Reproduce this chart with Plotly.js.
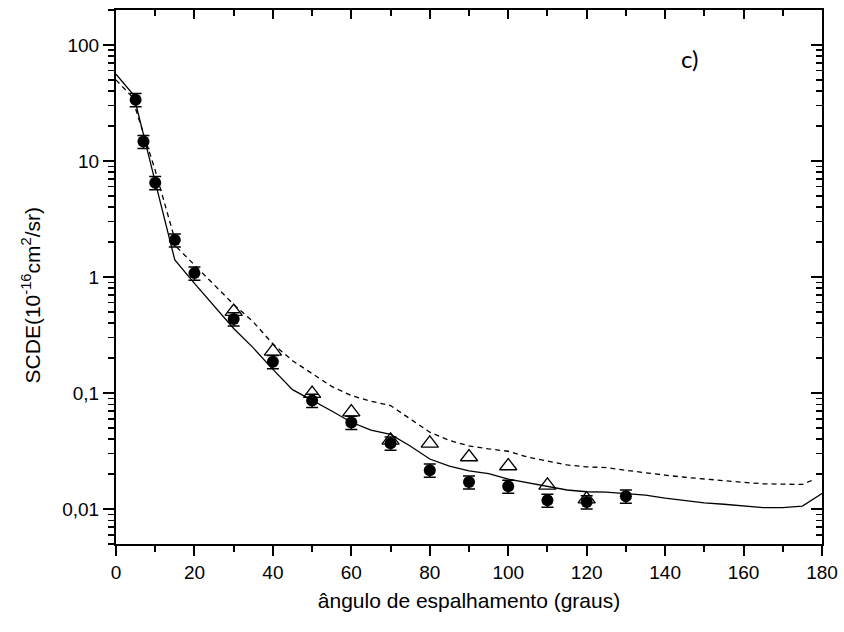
<!DOCTYPE html>
<html><head><meta charset="utf-8">
<script src="https://cdn.plot.ly/plotly-3.0.1.min.js"></script>
<style>html,body{margin:0;padding:0;background:#fff}#chart{width:844px;height:632px}</style>
</head><body><div id="chart"></div>
<script>
// Experimental data (filled circles)
const expAngles = [5, 7, 10, 15, 20, 30, 40, 50, 60, 70, 80, 90, 100, 110, 120, 130];
const expValues = [33.7, 14.7, 6.5, 2.08, 1.08, 0.435, 0.186, 0.0863, 0.0558, 0.0369, 0.0216, 0.0171, 0.0157, 0.0119, 0.0115, 0.0129];
// Open triangles
const triAngles = [30, 40, 50, 60, 70, 80, 90, 100, 110, 120];
const triValues = [0.503, 0.229, 0.099, 0.0685, 0.0391, 0.0369, 0.0281, 0.0235, 0.0160, 0.0122];
// Solid curve
const solidAngles = [0, 4.5, 10, 15, 20, 25, 30, 35, 40, 45, 50, 55, 60, 65, 70, 75, 80, 85, 90, 95, 100, 105, 110, 115, 120, 125, 130, 135, 140, 145, 150, 155, 160, 165, 170, 175, 180];
const solidValues = [56, 37, 6.6, 1.4, 0.88, 0.56, 0.36, 0.245, 0.16, 0.107, 0.087, 0.07, 0.056, 0.048, 0.044, 0.035, 0.027, 0.0235, 0.0213, 0.0202, 0.0181, 0.0168, 0.0157, 0.0146, 0.0141, 0.014, 0.0136, 0.0132, 0.0124, 0.0118, 0.0113, 0.011, 0.0106, 0.0103, 0.0103, 0.0106, 0.0136];
// Dashed curve
const dashAngles = [0, 4, 10, 15.6, 20, 25, 30, 35, 40, 45, 50, 55, 60, 65, 70, 75, 80, 85, 90, 95, 100, 105, 110, 115, 120, 125, 130, 135, 140, 145, 150, 155, 160, 165, 170, 175, 178];
const dashValues = [50, 36, 8.3, 1.79, 1.27, 0.86, 0.58, 0.41, 0.265, 0.19, 0.148, 0.114, 0.095, 0.085, 0.078, 0.06, 0.046, 0.039, 0.035, 0.033, 0.0315, 0.028, 0.0258, 0.024, 0.0231, 0.0228, 0.0216, 0.0205, 0.0196, 0.0188, 0.0181, 0.0175, 0.017, 0.0165, 0.0163, 0.0163, 0.018];
// Ticks
const xTickVals = [0, 20, 40, 60, 80, 100, 120, 140, 160, 180];
const yTickVals = [0.01, 0.1, 1, 10, 100];
const yTickText = ['0,01', '0,1', '1', '10', '100'];

const traces = [
  {x: solidAngles, y: solidValues, mode: 'lines', line: {color: '#000', width: 1.3}, showlegend: false, hoverinfo: 'skip'},
  {x: dashAngles, y: dashValues, mode: 'lines', line: {color: '#000', width: 1.3, dash: '5px,4px'}, showlegend: false, hoverinfo: 'skip'},
  {x: triAngles, y: triValues, mode: 'markers', marker: {symbol: 'triangle-up-open', size: 15, color: '#000', line: {width: 1.3, color: '#000'}}, showlegend: false},
  {x: expAngles, y: expValues, mode: 'markers', marker: {symbol: 'circle', size: 12, color: '#000'},
   error_y: {type: 'percent', value: 13, color: '#000', thickness: 1.5, width: 6}, showlegend: false},
  {x: [], y: [], xaxis: 'x2', yaxis: 'y2', showlegend: false, hoverinfo: 'skip'}
];

const fontBase = {family: 'Liberation Sans, Arial, sans-serif', color: '#000'};
const layout = {
  width: 844, height: 632,
  margin: {l: 116, r: 22, t: 10, b: 88},
  paper_bgcolor: '#fff', plot_bgcolor: '#fff',
  showlegend: false,
  font: Object.assign({size: 19}, fontBase),
  xaxis: {
    range: [0, 180], tickmode: 'array', tickvals: xTickVals,
    ticks: 'outside', ticklen: 10, tickwidth: 2, tickcolor: '#000',
    showline: true, linewidth: 2, linecolor: '#000', showgrid: false, zeroline: false,
    tickfont: Object.assign({size: 19}, fontBase),
    minor: {tickmode: 'linear', tick0: 0, dtick: 10, ticks: 'outside', ticklen: 6, tickwidth: 2, tickcolor: '#000', showgrid: false},
    title: {text: 'ângulo de espalhamento (graus)', font: Object.assign({size: 21}, fontBase), standoff: 12}
  },
  yaxis: {
    type: 'log', range: [Math.log10(0.005), Math.log10(200)],
    tickmode: 'array', tickvals: yTickVals, ticktext: yTickText,
    ticks: 'outside', ticklen: 11, tickwidth: 2, tickcolor: '#000',
    showline: true, linewidth: 2, linecolor: '#000', showgrid: false, zeroline: false,
    tickfont: Object.assign({size: 19}, fontBase),
    minor: {dtick: 'D1', ticks: 'outside', ticklen: 6, tickwidth: 1.5, tickcolor: '#000', showgrid: false}
  },
  xaxis2: {
    overlaying: 'x', side: 'top', matches: 'x', range: [0, 180],
    tickmode: 'linear', tick0: 0, dtick: 20, ticks: 'inside', ticklen: 9, tickwidth: 2, tickcolor: '#000',
    showticklabels: false, showline: true, linewidth: 2, linecolor: '#000', showgrid: false, zeroline: false,
    minor: {tickmode: 'linear', tick0: 0, dtick: 10, ticks: 'inside', ticklen: 6, tickwidth: 2, tickcolor: '#000', showgrid: false}
  },
  yaxis2: {
    overlaying: 'y', side: 'right', type: 'log', range: [Math.log10(0.005), Math.log10(200)],
    tickmode: 'array', tickvals: yTickVals, ticks: 'inside', ticklen: 11, tickwidth: 2, tickcolor: '#000',
    showticklabels: false, showline: true, linewidth: 2, linecolor: '#000', showgrid: false, zeroline: false,
    minor: {dtick: 'D1', ticks: 'inside', ticklen: 6, tickwidth: 1.5, tickcolor: '#000', showgrid: false}
  },
  annotations: [
    {text: 'SCDE(10<sup>-16</sup>cm<sup>2</sup>/sr)', xref: 'paper', yref: 'paper', x: -0.12, y: 0.466,
     xanchor: 'center', yanchor: 'middle', textangle: -90, showarrow: false,
     font: Object.assign({size: 21}, fontBase)},
    {text: 'c)', xref: 'paper', yref: 'paper', x: 0.812, y: 0.91, xanchor: 'center', yanchor: 'middle', showarrow: false,
     font: {family: 'Lato, Open Sans, sans-serif', size: 24, color: '#000'}}
  ]
};

Plotly.newPlot('chart', traces, layout, {displayModeBar: false, staticPlot: true});
</script>
</body></html>
